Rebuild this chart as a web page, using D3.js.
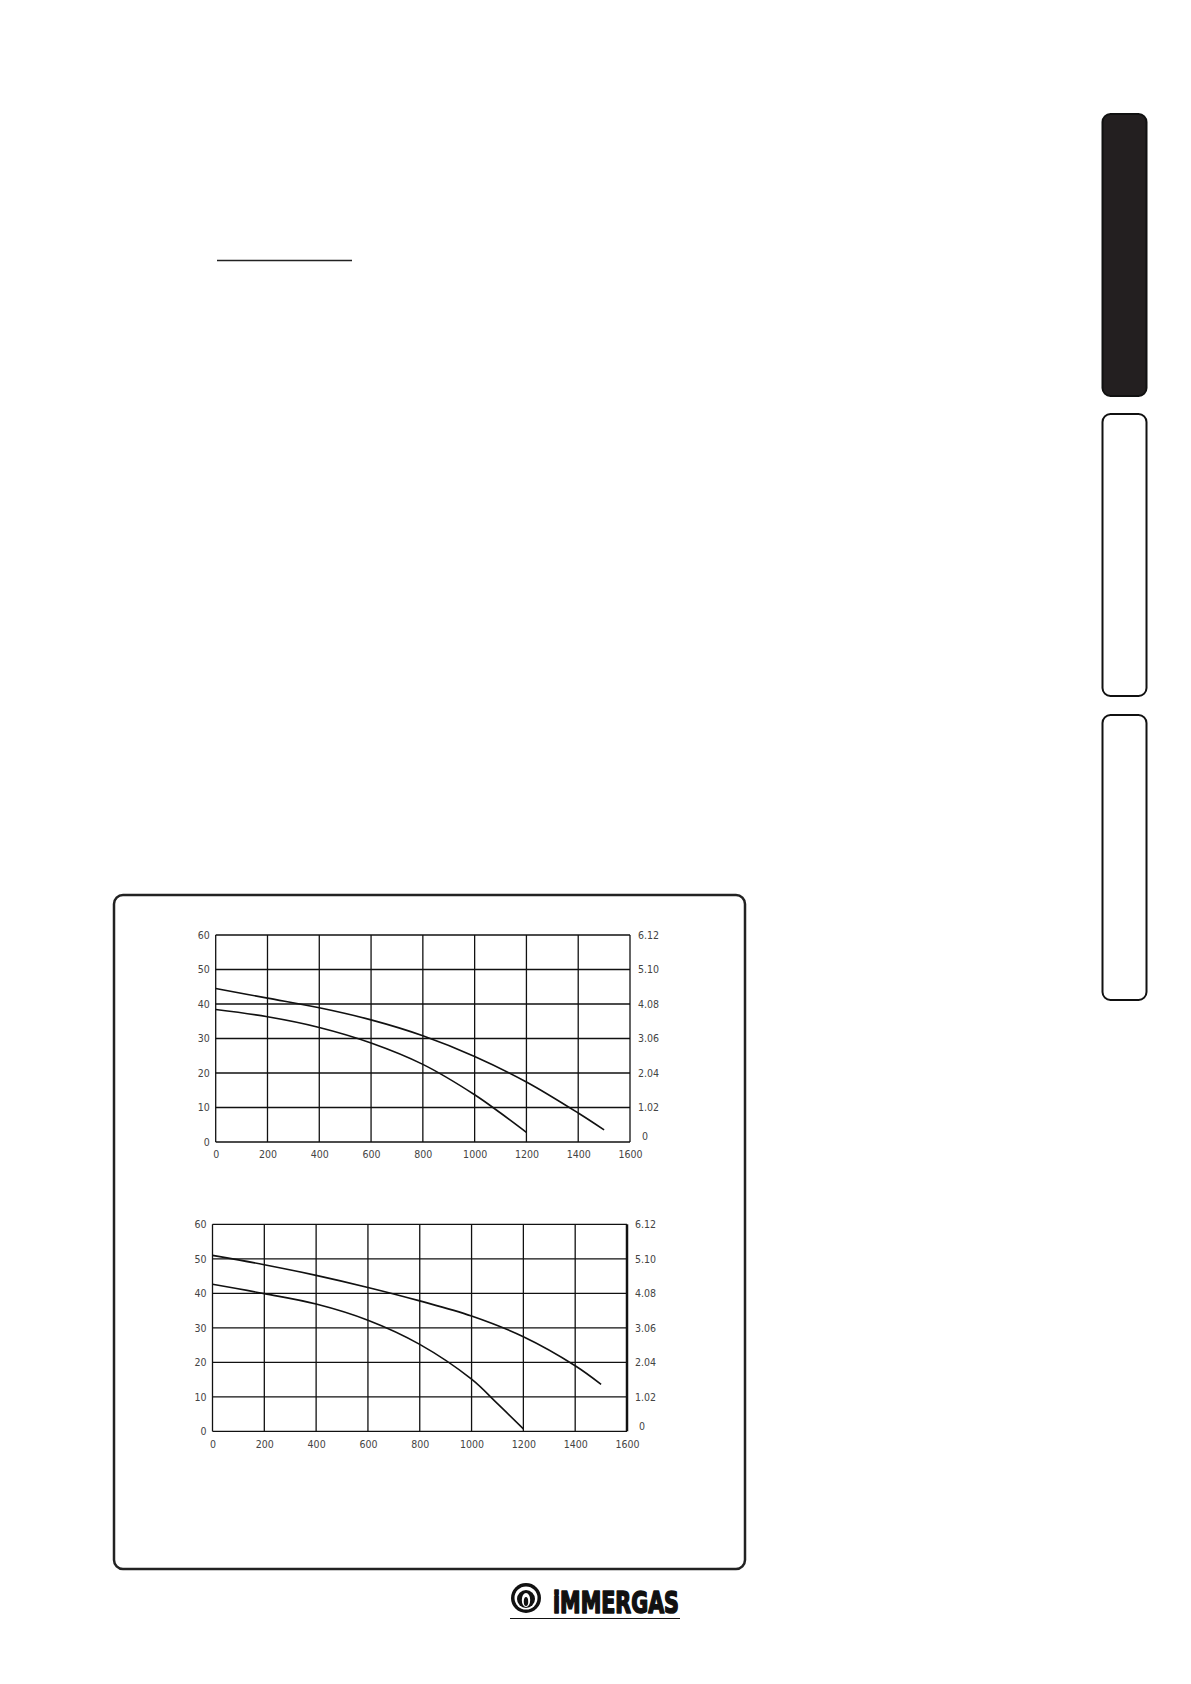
<!DOCTYPE html>
<html>
<head>
  <meta charset="utf-8">
  <script src="https://d3js.org/d3.v7.min.js"></script>
  <style>
    body { margin: 0; background: #fff; }
    svg { display: block; }
    .tick text { font-family: "DejaVu Sans Condensed", "DejaVu Sans", sans-serif; font-size: 10.5px; fill: #444; }
  </style>
</head>
<body>
  <svg width="1191" height="1684"></svg>

  <script>
    // flow rate (l/h) ticks and head ticks
    const flowTicks = [0, 200, 400, 600, 800, 1000, 1200, 1400, 1600];
    const headTicks = [0, 10, 20, 30, 40, 50, 60];
    const kpaLabels = ["0", "1.02", "2.04", "3.06", "4.08", "5.10", "6.12"];

    // chart 1 curves
    const flow1Hi = [0, 200, 400, 600, 800, 1000, 1200, 1400, 1500];
    const head1Hi = [44.5, 41.7, 38.9, 35.4, 30.8, 24.8, 17.4, 8.4, 3.5];
    const flow1Lo = [0, 200, 400, 600, 800, 1000, 1100, 1200];
    const head1Lo = [38.4, 36.3, 33.2, 28.7, 22.5, 13.7, 8.4, 2.8];

    // chart 2 curves
    const flow2Hi = [0, 200, 400, 600, 800, 1000, 1200, 1400, 1500];
    const head2Hi = [51.0, 48.3, 45.2, 41.7, 37.8, 33.4, 27.4, 19.0, 13.6];
    const flow2Lo = [0, 200, 400, 600, 800, 1000, 1100, 1200];
    const head2Lo = [42.6, 39.9, 36.9, 32.2, 25.2, 15.1, 8.0, 0.7];

    const svg = d3.select("svg");

    // side tabs
    const tabs = [
      { y: 114, h: 282, fill: "#231f20" },
      { y: 414, h: 282, fill: "#fff" },
      { y: 715, h: 285, fill: "#fff" }
    ];
    svg.selectAll("rect.tab")
      .data(tabs)
      .enter()
      .append("rect")
      .attr("class", "tab")
      .attr("x", 1102.5).attr("y", d => d.y)
      .attr("width", 44).attr("height", d => d.h)
      .attr("rx", 8)
      .attr("fill", d => d.fill)
      .attr("stroke", "#111").attr("stroke-width", 2);

    // short rule near top
    svg.append("line")
      .attr("x1", 217).attr("x2", 352)
      .attr("y1", 260.5).attr("y2", 260.5)
      .attr("stroke", "#222").attr("stroke-width", 1.5);

    // frame round the charts
    svg.append("rect")
      .attr("x", 114).attr("y", 895)
      .attr("width", 631).attr("height", 674)
      .attr("rx", 9)
      .attr("fill", "none")
      .attr("stroke", "#222").attr("stroke-width", 2.5);

    const drawChart = (box, curves, thickRight) => {
      const x = d3.scaleLinear().domain([0, 1600]).range([box.left, box.right]);
      const y = d3.scaleLinear().domain([0, 60]).range([box.bottom, box.top]);
      const g = svg.append("g");

      g.selectAll("line.vgrid")
        .data(flowTicks)
        .enter()
        .append("line")
        .attr("x1", d => x(d)).attr("x2", d => x(d))
        .attr("y1", box.top).attr("y2", box.bottom)
        .attr("stroke", "#111")
        .attr("stroke-width", d => (thickRight && d === 1600) ? 2.5 : 1.3);

      g.selectAll("line.hgrid")
        .data(headTicks)
        .enter()
        .append("line")
        .attr("x1", box.left).attr("x2", box.right)
        .attr("y1", d => y(d)).attr("y2", d => y(d))
        .attr("stroke", "#111").attr("stroke-width", 1.3);

      // tick labels through axes
      g.append("g")
        .attr("transform", "translate(" + box.left + ",0)")
        .call(d3.axisLeft(y).tickValues(headTicks).tickSize(0).tickPadding(6))
        .call(a => a.select(".domain").remove());

      g.append("g")
        .attr("transform", "translate(0," + box.bottom + ")")
        .call(d3.axisBottom(x).tickValues(flowTicks).tickSize(0).tickPadding(9)
          .tickFormat(d3.format("d")))
        .call(a => a.select(".domain").remove());

      g.append("g")
        .attr("transform", "translate(" + box.right + ",0)")
        .call(d3.axisRight(y).tickValues(headTicks).tickSize(0).tickPadding(8)
          .tickFormat((d, i) => kpaLabels[i]))
        .call(a => a.select(".domain").remove())
        .call(a => a.selectAll(".tick text")
          .filter(d => d === 0)
          .attr("x", 12)
          .attr("dy", "-0.2em"));

      const line = d3.line()
        .x(d => x(d[0]))
        .y(d => y(d[1]))
        .curve(d3.curveCatmullRom.alpha(0.5));

      g.selectAll("path.curve")
        .data(curves)
        .enter()
        .append("path")
        .attr("d", d => line(d))
        .attr("fill", "none")
        .attr("stroke", "#111")
        .attr("stroke-width", 1.6);
    };

    const zip = (a, b) => a.map((v, i) => [v, b[i]]);

    drawChart({ left: 215.7, right: 630, top: 935, bottom: 1142 },
      [zip(flow1Hi, head1Hi), zip(flow1Lo, head1Lo)], false);
    drawChart({ left: 212.5, right: 627, top: 1224.3, bottom: 1431.3 },
      [zip(flow2Hi, head2Hi), zip(flow2Lo, head2Lo)], true);

    // maker's mark
    const logo = svg.append("g");
    logo.append("circle").attr("cx", 526).attr("cy", 1598).attr("r", 15).attr("fill", "#111");
    logo.append("circle").attr("cx", 526).attr("cy", 1598).attr("r", 11.5).attr("fill", "#fff");
    logo.append("circle").attr("cx", 526).attr("cy", 1599).attr("r", 9).attr("fill", "#111");
    logo.append("ellipse").attr("cx", 526).attr("cy", 1600).attr("rx", 4.2).attr("ry", 7).attr("fill", "#fff");
    logo.append("ellipse").attr("cx", 526).attr("cy", 1601.5).attr("rx", 2.2).attr("ry", 4.5).attr("fill", "#111");
    logo.append("text")
      .attr("x", 553).attr("y", 1613)
      .attr("textLength", 126)
      .attr("lengthAdjust", "spacingAndGlyphs")
      .style("font-family", "'DejaVu Sans Condensed', 'DejaVu Sans', sans-serif")
      .style("font-weight", "bold")
      .style("font-size", "31px")
      .attr("fill", "#111")
      .attr("stroke", "#111")
      .attr("stroke-width", 1.6)
      .attr("stroke-linejoin", "round")
      .text("iMMERGAS");
    logo.append("line")
      .attr("x1", 510).attr("x2", 680)
      .attr("y1", 1618.5).attr("y2", 1618.5)
      .attr("stroke", "#111").attr("stroke-width", 1.2);
  </script>
</body>
</html>
